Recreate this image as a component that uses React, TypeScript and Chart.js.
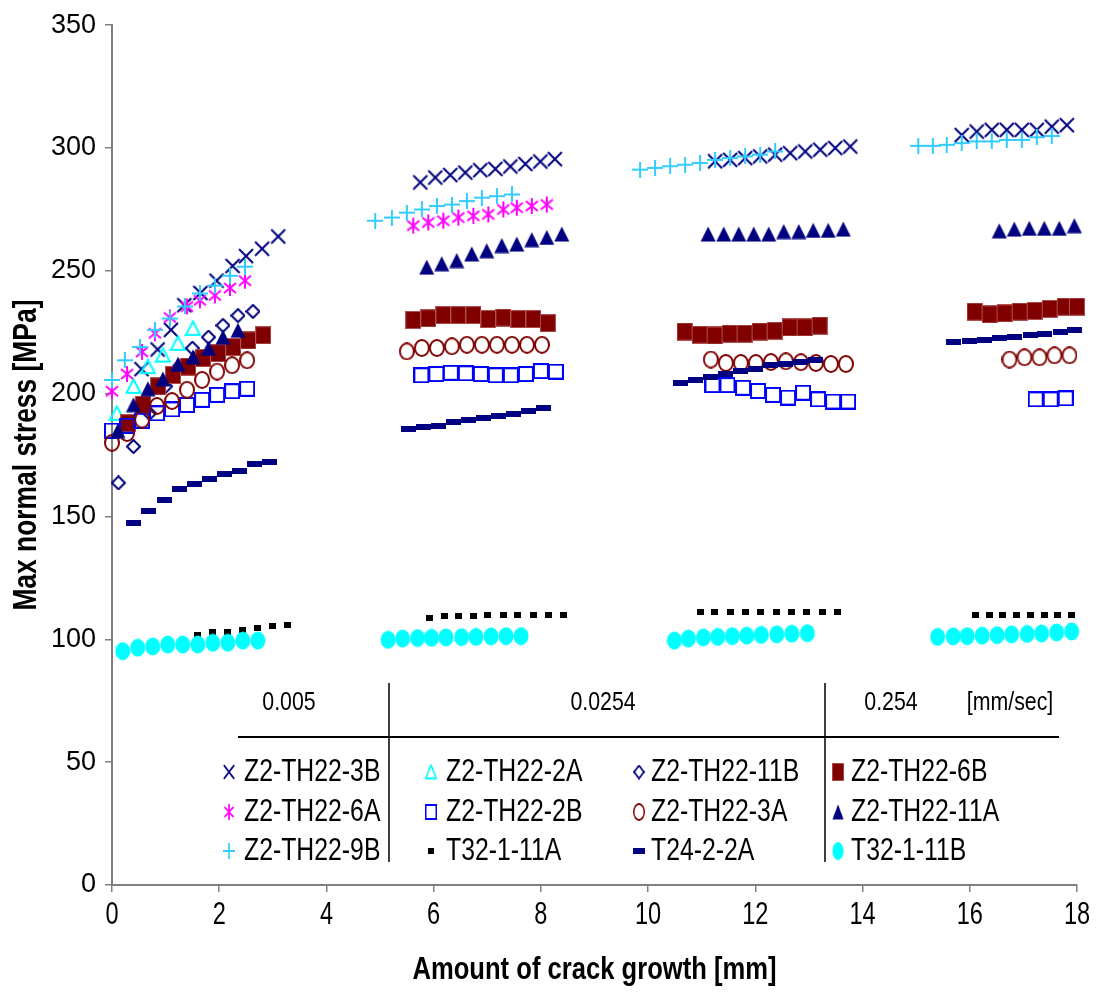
import React, { useEffect, useRef } from "react";
import { Chart, registerables } from "chart.js";

Chart.register(...registerables);

// ---------------- data ----------------
const xTicks = [0, 2, 4, 6, 8, 10, 12, 14, 16, 18];
const yTicks = [0, 50, 100, 150, 200, 250, 300, 350];
const rateLabels = ["0.005", "0.0254", "0.254", "[mm/sec]"];
const xTitle = "Amount of crack growth [mm]";
const yTitle = "Max normal stress [MPa]";

const seriesNames = [
  "Z2-TH22-3B", "Z2-TH22-2A", "Z2-TH22-11B", "Z2-TH22-6B",
  "Z2-TH22-6A", "Z2-TH22-2B", "Z2-TH22-3A", "Z2-TH22-11A",
  "Z2-TH22-9B", "T32-1-11A", "T24-2-2A", "T32-1-11B",
];

const x3B = [0.55, 0.85, 1.1, 1.35, 1.65, 1.95, 2.25, 2.5, 2.8, 3.1,
  5.75, 6.03, 6.31, 6.59, 6.87, 7.15, 7.43, 7.71, 7.99, 8.26,
  11.25, 11.53, 11.81, 12.09, 12.37, 12.65, 12.93, 13.21, 13.49, 13.77,
  15.85, 16.13, 16.41, 16.69, 16.97, 17.25, 17.53, 17.81];
const y3B = [210, 218, 226, 236, 241, 246, 252, 256, 259, 264,
  286, 288, 289, 290, 291, 291.5, 292.5, 293.5, 294.5, 295.5,
  294.6, 295.2, 295.9, 296.6, 297.3, 297.9, 298.6, 299.3, 300, 300.6,
  305.3, 306.7, 307.4, 307.4, 307.4, 307.4, 308.7, 309.3];

const x2A = [0.09, 0.4, 0.67, 0.95, 1.23, 1.51];
const y2A = [192, 203, 211, 215.7, 220.5, 226.6];

const x11B = [0.12, 0.4, 0.7, 1.0, 1.25, 1.5, 1.8, 2.07, 2.35, 2.63];
const y11B = [163.7, 178.5, 192, 203, 211, 218.5, 223, 227.8, 231.8, 233.5];

const x6B = [0.3, 0.58, 0.86, 1.14, 1.42, 1.7, 1.98, 2.26, 2.54, 2.82,
  5.62, 5.9, 6.18, 6.46, 6.74, 7.02, 7.3, 7.58, 7.86, 8.13,
  10.68, 10.96, 11.24, 11.52, 11.8, 12.08, 12.36, 12.64, 12.92, 13.2,
  16.09, 16.37, 16.65, 16.93, 17.21, 17.49, 17.77, 18.0];
const y6B = [188, 195.5, 203, 207.6, 211, 214.5, 216.5, 219, 221.7, 223.8,
  230, 230.7, 232, 232, 232, 230.4, 231, 230.4, 230.4, 228.7,
  225.3, 224, 223.7, 224.4, 224.4, 225.3, 225.6, 227, 227, 227.7,
  233.4, 232.3, 232.7, 233.4, 233.7, 234.5, 235.4, 235.4];

const x6A = [0, 0.28, 0.56, 0.8, 1.08, 1.4, 1.64, 1.92, 2.2, 2.48,
  5.62, 5.9, 6.18, 6.46, 6.74, 7.02, 7.3, 7.55, 7.83, 8.11];
const y6A = [201, 208, 217, 224.6, 231, 235.5, 238, 240, 243, 246,
  268.4, 269.7, 270.4, 271.7, 272.4, 273, 275, 275.7, 276.4, 277];

const x2B = [0, 0.28, 0.56, 0.84, 1.12, 1.4, 1.68, 1.96, 2.24, 2.52,
  5.77, 6.05, 6.32, 6.6, 6.88, 7.16, 7.44, 7.72, 8.0, 8.28,
  11.2, 11.48, 11.77, 12.05, 12.33, 12.61, 12.89, 13.17, 13.45, 13.73,
  17.23, 17.51, 17.79];
const y2B = [185, 187, 189, 192, 193.6, 195.4, 197.5, 199.5, 201, 202,
  207.5, 208, 208.5, 208.3, 208, 207.5, 207.5, 208, 209.2, 209,
  203.5, 203.5, 202.4, 201.1, 199.5, 198.4, 200.4, 197.7, 196.8, 196.8,
  197.7, 197.7, 198.1];

const x3A = [0, 0.28, 0.56, 0.84, 1.12, 1.4, 1.68, 1.96, 2.24, 2.52,
  5.5, 5.78, 6.06, 6.34, 6.62, 6.9, 7.18, 7.46, 7.74, 8.02,
  11.17, 11.45, 11.73, 12.01, 12.29, 12.57, 12.85, 13.13, 13.41, 13.69,
  16.74, 17.02, 17.3, 17.58, 17.86];
const y3A = [180, 184, 189.4, 195, 197, 201.6, 205.6, 209, 211.6, 213.6,
  217.2, 218.6, 218.6, 219.3, 219.9, 219.9, 219.9, 219.9, 219.9, 219.9,
  213.9, 212.5, 212.5, 212.5, 212.9, 213.2, 212.8, 212.5, 212.1, 212.1,
  213.9, 214.8, 214.8, 215.6, 215.6];

const x11A = [0.11, 0.4, 0.67, 0.95, 1.23, 1.51, 1.8, 2.07, 2.35,
  5.87, 6.15, 6.43, 6.71, 6.99, 7.27, 7.55, 7.83, 8.11, 8.39,
  11.12, 11.41, 11.69, 11.97, 12.25, 12.53, 12.81, 13.08, 13.36, 13.64,
  16.55, 16.83, 17.11, 17.39, 17.67, 17.95];
const y11A = [185, 195.5, 202, 206, 212, 215, 218.5, 223, 225.8,
  251.5, 252.9, 254.2, 256.9, 258.2, 260.3, 260.9, 262.7, 263.6, 265,
  265, 265, 265, 265, 265, 266, 266, 266.5, 266.5, 267,
  266.3, 267, 267.3, 267.3, 267.3, 268.4];

const x9B = [0, 0.24, 0.52, 0.8, 1.08, 1.36, 1.64, 1.92, 2.2, 2.48,
  4.91, 5.22, 5.5, 5.78, 6.06, 6.34, 6.62, 6.9, 7.18, 7.46,
  9.85, 10.13, 10.41, 10.69, 10.97, 11.25, 11.53, 11.81, 12.09, 12.37,
  15.04, 15.31, 15.57, 15.85, 16.13, 16.41, 16.69, 16.97, 17.25, 17.53];
const y9B = [205.6, 213.6, 219, 226, 230.6, 235.5, 240.8, 244, 248, 251.7,
  270.4, 271.7, 273.7, 275, 276.4, 277, 278.4, 279.8, 280.4, 281.1,
  291.2, 291.9, 292.6, 293.2, 293.9, 295.2, 295.9, 296.6, 297.3, 298.6,
  300.9, 300.9, 301.3, 302, 302.7, 302.7, 303.3, 303.3, 304.4, 304.9];

const xT32A = [1.6, 1.88, 2.16, 2.44, 2.72, 3.0, 3.28,
  5.92, 6.2, 6.46, 6.74, 7.0, 7.3, 7.57, 7.87, 8.14, 8.43,
  10.97, 11.24, 11.53, 11.82, 12.1, 12.39, 12.68, 12.96, 13.25, 13.54,
  16.1, 16.36, 16.61, 16.87, 17.13, 17.39, 17.64, 17.9];
const yT32A = [101.6, 102.9, 102.9, 103.8, 104.6, 105.6, 106,
  108.5, 109.5, 109.5, 109.5, 110, 110, 110, 110, 110, 110,
  111, 111, 111, 111, 111, 111, 111, 111, 111, 111,
  110, 110, 110, 110, 110, 110, 110, 110];

const xT24 = [0.41, 0.69, 0.97, 1.25, 1.53, 1.81, 2.09, 2.37, 2.65, 2.93,
  5.53, 5.81, 6.09, 6.37, 6.65, 6.93, 7.21, 7.49, 7.77, 8.05,
  10.61, 10.89, 11.17, 11.45, 11.73, 12.01, 12.29, 12.57, 12.85, 13.13,
  15.7, 15.99, 16.27, 16.55, 16.83, 17.13, 17.39, 17.69, 17.95];
const yT24 = [147.3, 152.4, 156.7, 161, 163.2, 165.3, 167.5, 168.7, 171.2, 172.2,
  185.6, 186.3, 187, 188.3, 189.3, 190, 191, 191.9, 193, 194.3,
  204.2, 205.5, 206.9, 208.2, 209.2, 209.9, 211.6, 212.1, 212.9, 213.9,
  220.9, 221.3, 221.7, 222.6, 223, 224, 224.2, 225, 226];

const xT32B = [0.2, 0.48, 0.76, 1.04, 1.32, 1.6, 1.88, 2.16, 2.44, 2.72,
  5.15, 5.42, 5.7, 5.96, 6.23, 6.52, 6.79, 7.07, 7.35, 7.63,
  10.49, 10.75, 11.03, 11.3, 11.57, 11.84, 12.11, 12.4, 12.68, 12.97,
  15.4, 15.69, 15.95, 16.23, 16.51, 16.78, 17.07, 17.34, 17.62, 17.9];
const yT32B = [95.2, 96.6, 97.1, 97.9, 97.9, 97.9, 98.6, 98.6, 99.5, 99.5,
  99.8, 100.3, 100.5, 100.6, 100.8, 100.9, 101, 101.2, 101.3, 101.3,
  99.5, 100.3, 100.8, 101, 101.3, 101.5, 101.8, 102, 102.3, 102.5,
  101, 101.2, 101.3, 101.5, 101.7, 102, 102.2, 102.4, 102.8, 103.2];

const seriesX = [x3B, x2A, x11B, x6B, x6A, x2B, x3A, x11A, x9B, xT32A, xT24, xT32B];
const seriesY = [y3B, y2A, y11B, y6B, y6A, y2B, y3A, y11A, y9B, yT32A, yT24, yT32B];

// ---------------- styles ----------------
const NAVY = "#000080";
const MAROON = "#800000";
const MAGENTA = "#FF00FF";
const SKY = "#33CCFF";
const CYAN = "#00FFFF";
const BLUE = "#0000FF";
const FONT = '"Liberation Sans", Arial, sans-serif';

type Draw = (c: CanvasRenderingContext2D, w: number, h: number) => void;
function mk(w: number, h: number, draw: Draw): HTMLCanvasElement {
  const c = document.createElement("canvas");
  c.width = w;
  c.height = h;
  const ctx = c.getContext("2d")!;
  draw(ctx, w, h);
  return c;
}

function makeMarkers(): HTMLCanvasElement[] {
  const xMark = mk(18, 18, (c) => {
    c.strokeStyle = NAVY; c.lineWidth = 2;
    c.beginPath(); c.moveTo(2, 2); c.lineTo(16, 16); c.moveTo(16, 2); c.lineTo(2, 16); c.stroke();
  });
  const openTri = mk(17, 17, (c) => {
    c.strokeStyle = CYAN; c.lineWidth = 2;
    c.beginPath(); c.moveTo(8.5, 1.5); c.lineTo(15.5, 15); c.lineTo(1.5, 15); c.closePath(); c.stroke();
  });
  const diamond = mk(15, 15, (c) => {
    c.strokeStyle = NAVY; c.lineWidth = 2;
    c.beginPath(); c.moveTo(7.5, 1); c.lineTo(14, 7.5); c.lineTo(7.5, 14); c.lineTo(1, 7.5); c.closePath(); c.stroke();
  });
  const fillSq = mk(16, 18, (c) => {
    c.fillStyle = MAROON; c.fillRect(0, 0, 16, 18);
    c.strokeStyle = "#B05050"; c.lineWidth = 1; c.strokeRect(0.5, 0.5, 15, 17);
  });
  const aster = mk(16, 18, (c) => {
    c.strokeStyle = MAGENTA; c.lineWidth = 2;
    c.beginPath(); c.moveTo(8, 1); c.lineTo(8, 17);
    c.moveTo(2, 4); c.lineTo(14, 14); c.moveTo(14, 4); c.lineTo(2, 14); c.stroke();
  });
  const openSq = mk(16, 16, (c) => {
    c.strokeStyle = BLUE; c.lineWidth = 2; c.strokeRect(1, 1, 14, 14);
  });
  const openCirc = mk(16, 18, (c) => {
    c.strokeStyle = MAROON; c.lineWidth = 2;
    c.beginPath(); c.ellipse(8, 9, 7, 8, 0, 0, Math.PI * 2); c.stroke();
  });
  const fillTri = mk(16, 16, (c) => {
    c.fillStyle = NAVY;
    c.beginPath(); c.moveTo(8, 0.5); c.lineTo(15.5, 15.5); c.lineTo(0.5, 15.5); c.closePath(); c.fill();
  });
  const plus = mk(16, 16, (c) => {
    c.strokeStyle = SKY; c.lineWidth = 2;
    c.beginPath(); c.moveTo(0, 8); c.lineTo(16, 8); c.moveTo(8, 0); c.lineTo(8, 16); c.stroke();
  });
  const smallSq = mk(7, 6, (c) => { c.fillStyle = "#000"; c.fillRect(0, 0, 7, 6); });
  const dash = mk(15, 6, (c) => { c.fillStyle = NAVY; c.fillRect(0, 0, 15, 6); });
  const ellip = mk(16, 19, (c) => {
    c.fillStyle = CYAN; c.beginPath(); c.ellipse(8, 9.5, 7.5, 9, 0, 0, Math.PI * 2); c.fill();
  });
  return [xMark, openTri, diamond, fillSq, aster, openSq, openCirc, fillTri, plus, smallSq, dash, ellip];
}

function narrowText(
  ctx: CanvasRenderingContext2D, text: string, x: number, y: number,
  font: string, sx: number, align: CanvasTextAlign, rot = 0
) {
  ctx.save();
  ctx.font = font;
  ctx.textAlign = align;
  ctx.textBaseline = "middle";
  ctx.fillStyle = "#000";
  ctx.translate(x, y);
  if (rot) ctx.rotate(rot);
  ctx.scale(sx, 1);
  ctx.fillText(text, 0, 0);
  ctx.restore();
}

export default function App() {
  const ref = useRef<HTMLCanvasElement | null>(null);

  useEffect(() => {
    if (!ref.current) return;
    const markers = makeMarkers();

    const datasets = seriesNames.map((name, i) => ({
      label: name,
      data: seriesX[i].map((x, k) => ({ x, y: seriesY[i][k] })),
      pointStyle: markers[i] as any,
      pointRadius: 8,
      showLine: false,
      clip: false as any,
      order: -i,
    }));

    const overlay = {
      id: "overlay",
      afterDraw(chart: any) {
        const ctx: CanvasRenderingContext2D = chart.ctx;
        const xs = chart.scales.x;
        const ca = chart.chartArea;
        // x tick labels
        for (const v of xTicks) {
          narrowText(ctx, String(v), xs.getPixelForValue(v), 915, `31px ${FONT}`, 0.76, "center");
        }
        // axis titles
        narrowText(ctx, xTitle, (ca.left + ca.right) / 2, 970, `bold 32px ${FONT}`, 0.8, "center");
        narrowText(ctx, yTitle, 27, (ca.top + ca.bottom) / 2, `bold 33px ${FONT}`, 0.8, "center", -Math.PI / 2);

        // rate table
        ctx.save();
        ctx.strokeStyle = "#000";
        ctx.lineWidth = 2;
        ctx.beginPath();
        ctx.moveTo(238, 737); ctx.lineTo(1059, 737);
        ctx.stroke();
        ctx.lineWidth = 1.5;
        ctx.beginPath();
        ctx.moveTo(389, 683); ctx.lineTo(389, 862);
        ctx.moveTo(825, 683); ctx.lineTo(825, 862);
        ctx.stroke();
        ctx.restore();
        const rateX = [289, 603, 891, 1010];
        rateLabels.forEach((t, i) => narrowText(ctx, t, rateX[i], 703, `26px ${FONT}`, 0.82, "center"));

        // legend
        const markX = [229, 431, 639, 838];
        const textX = [244, 446, 651, 851];
        const rowY = [772, 812, 851];
        seriesNames.forEach((name, i) => {
          const col = i % 4;
          const row = Math.floor(i / 4);
          const m = markers[i];
          const w = m.width * 0.75;
          const h = m.height;
          ctx.drawImage(m, markX[col] - w / 2, rowY[row] - h / 2, w, h);
          narrowText(ctx, name, textX[col], rowY[row], `31px ${FONT}`, 0.8, "left");
        });
      },
    };

    const axisCommon = {
      grid: { drawOnChartArea: false, drawTicks: true, tickLength: 7, color: "#808080", lineWidth: 1.5 },
      border: { display: true, color: "#808080", width: 2 },
    };

    const chart = new Chart(ref.current, {
      type: "scatter",
      data: { datasets: datasets as any },
      options: {
        animation: false,
        responsive: false,
        devicePixelRatio: 1,
        layout: { padding: { left: 0, right: 31, top: 20, bottom: 0 } },
        plugins: { legend: { display: false }, tooltip: { enabled: false } },
        scales: {
          x: {
            type: "linear",
            min: 0,
            max: 18,
            ...axisCommon,
            ticks: { display: false },
            afterBuildTicks: (s: any) => { s.ticks = xTicks.map((v) => ({ value: v })); },
            afterFit: (s: any) => { s.height = 113; },
          },
          y: {
            type: "linear",
            min: 0,
            max: 350,
            ...axisCommon,
            ticks: { color: "#000", font: { family: FONT, size: 27 }, padding: 9 },
            afterBuildTicks: (s: any) => { s.ticks = yTicks.map((v) => ({ value: v })); },
            afterFit: (s: any) => { s.width = 112; },
          },
        },
      } as any,
      plugins: [overlay],
    });
    return () => chart.destroy();
  }, []);

  return (
    <div style={{ position: "absolute", left: 0, top: 0, width: 1108, height: 998, background: "#fff" }}>
      <canvas ref={ref} width={1108} height={998} style={{ display: "block" }} />
    </div>
  );
}
